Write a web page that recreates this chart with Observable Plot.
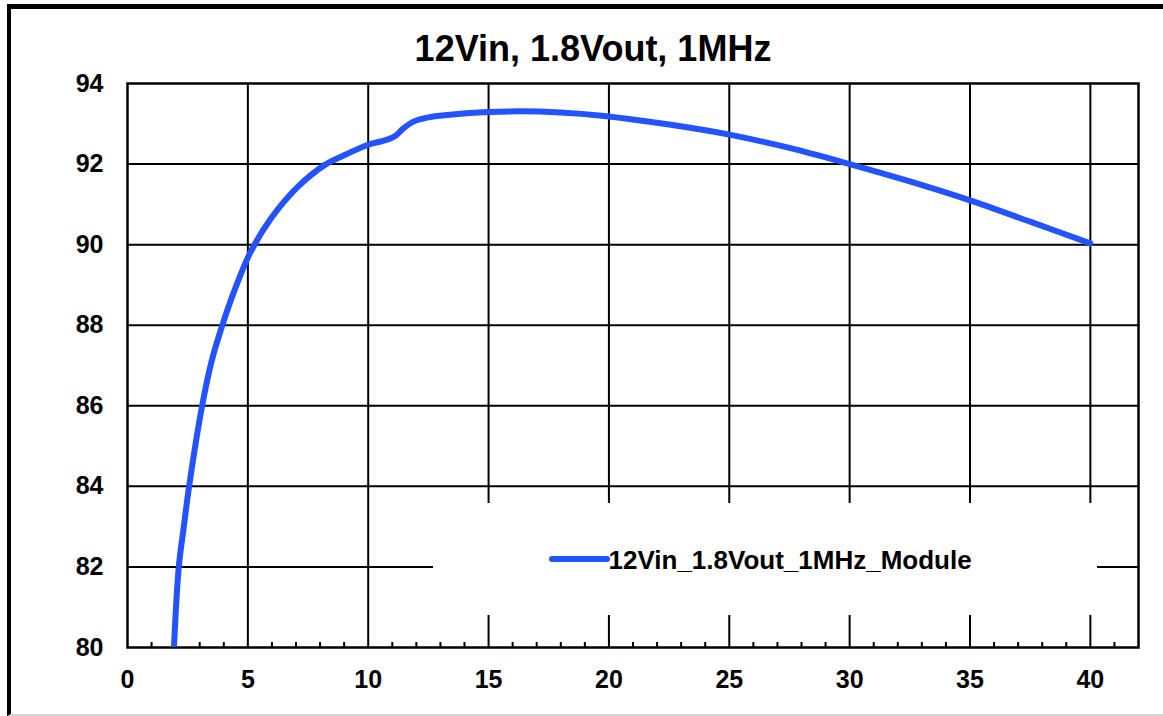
<!DOCTYPE html>
<html>
<head>
<meta charset="utf-8">
<script src="https://cdn.jsdelivr.net/npm/d3@7"></script>
<script src="https://cdn.jsdelivr.net/npm/@observablehq/plot@0.6"></script>
<style>
  html, body { margin: 0; padding: 0; background: #fff; }
  #wrap { position: relative; width: 1163px; height: 716px; overflow: hidden;
          font-family: "Liberation Sans", Arial, sans-serif; font-weight: bold; color: #000; }
  #frame { position: absolute; left: 7px; top: 4px; width: 1300px; height: 712px;
           border-top: 5px solid #000; border-left: 4px solid #000; border-bottom: 2px solid #d4d4d4;
           box-sizing: border-box; pointer-events: none; }
  #title { position: absolute; left: 0; width: 1186px; top: 31px; text-align: center;
           font-size: 36px; line-height: 36px; white-space: nowrap; }
  #legend { position: absolute; left: 433px; top: 503px; width: 664px; height: 112px; background: #fff; }
  #chart { position: absolute; left: 0; top: 0; }
</style>
</head>
<body>
<div id="wrap">
  <div id="chart"></div>
  <div id="frame"></div>
  <div id="title"></div>
  <div id="legend"></div>
</div>
<script>
// ---- data ----
const titleText = "12Vin, 1.8Vout, 1MHz";
const seriesName = "12Vin_1.8Vout_1MHz_Module";
const lineColor = "#2352ff";

const outputCurrent = [1.93, 2.13, 2.34, 2.56, 3.1, 3.5, 3.94, 4.5, 5.1, 5.95, 7.05, 8.2, 9.0, 10.0, 10.5, 10.85, 11.15, 11.45, 11.9, 12.5, 13.5, 15, 16.3, 18, 19.7, 22.5, 25, 27.5, 30, 32.5, 35, 37.5, 40];
const efficiency    = [80.0, 82.0, 83.0, 84.0, 86.0, 87.12, 88.0, 88.95, 89.8, 90.64, 91.42, 91.98, 92.22, 92.48, 92.56, 92.62, 92.71, 92.88, 93.06, 93.16, 93.23, 93.29, 93.31, 93.28, 93.2, 92.98, 92.73, 92.4, 92.0, 91.57, 91.1, 90.57, 90.03];

const xTicks = [0, 5, 10, 15, 20, 25, 30, 35, 40];
const yTicks = [80, 82, 84, 86, 88, 90, 92, 94];
const xMinorTicks = [1, 2, 3, 4, 6, 7, 8, 9, 11, 12, 13, 14, 16, 17, 18, 19, 21, 22, 23, 24, 26, 27, 28, 29, 31, 32, 33, 34, 36, 37, 38, 39, 41];
const xDomain = [0, 42];
const yDomain = [80, 94];

const data = outputCurrent.map((x, i) => ({ x, y: efficiency[i] }));

const W = 1163, H = 716, mL = 127, mR = 25, mT = 83, mB = 69;
const plotH = H - mT - mB;

const chart = Plot.plot({
  width: W, height: H,
  marginLeft: mL, marginRight: mR, marginTop: mT, marginBottom: mB,
  x: { domain: xDomain },
  y: { domain: yDomain },
  style: { fontFamily: '"Liberation Sans", Arial, sans-serif', fontWeight: "bold", fontSize: "25px", color: "#000", background: "transparent", overflow: "visible" },
  marks: [
    Plot.ruleX(xTicks.filter(t => t > xDomain[0] && t < xDomain[1]), { stroke: "#000", strokeWidth: 2 }),
    Plot.ruleY(yTicks.filter(t => t > yDomain[0] && t < yDomain[1]), { stroke: "#000", strokeWidth: 2 }),
    Plot.tickX(xMinorTicks, { x: d => d, insetTop: plotH - 5, stroke: "#000", strokeWidth: 2 }),
    Plot.frame({ stroke: "#000", strokeWidth: 2.5 }),
    Plot.line(data, { x: "x", y: "y", stroke: lineColor, strokeWidth: 6, curve: "catmull-rom", strokeLinecap: "round", clip: true }),
    Plot.axisX(xTicks, { tickSize: 0, tickPadding: 23, fontSize: 25, fontWeight: "bold", fill: "#000", label: null }),
    Plot.axisY(yTicks, { tickSize: 0, tickPadding: 24, fontSize: 25, fontWeight: "bold", fill: "#000", label: null })
  ]
});
document.getElementById("chart").appendChild(chart);
document.getElementById("title").textContent = titleText;

// legend
const leg = d3.select("#legend").append("svg").attr("width", 664).attr("height", 112);
leg.append("line").attr("x1", 119).attr("x2", 174).attr("y1", 56).attr("y2", 56)
  .attr("stroke", lineColor).attr("stroke-width", 6).attr("stroke-linecap", "round");
leg.append("text").attr("x", 175.5).attr("y", 66)
  .attr("font-family", '"Liberation Sans", Arial, sans-serif').attr("font-weight", "bold")
  .attr("font-size", 26).attr("fill", "#000").text(seriesName);
</script>
</body>
</html>
